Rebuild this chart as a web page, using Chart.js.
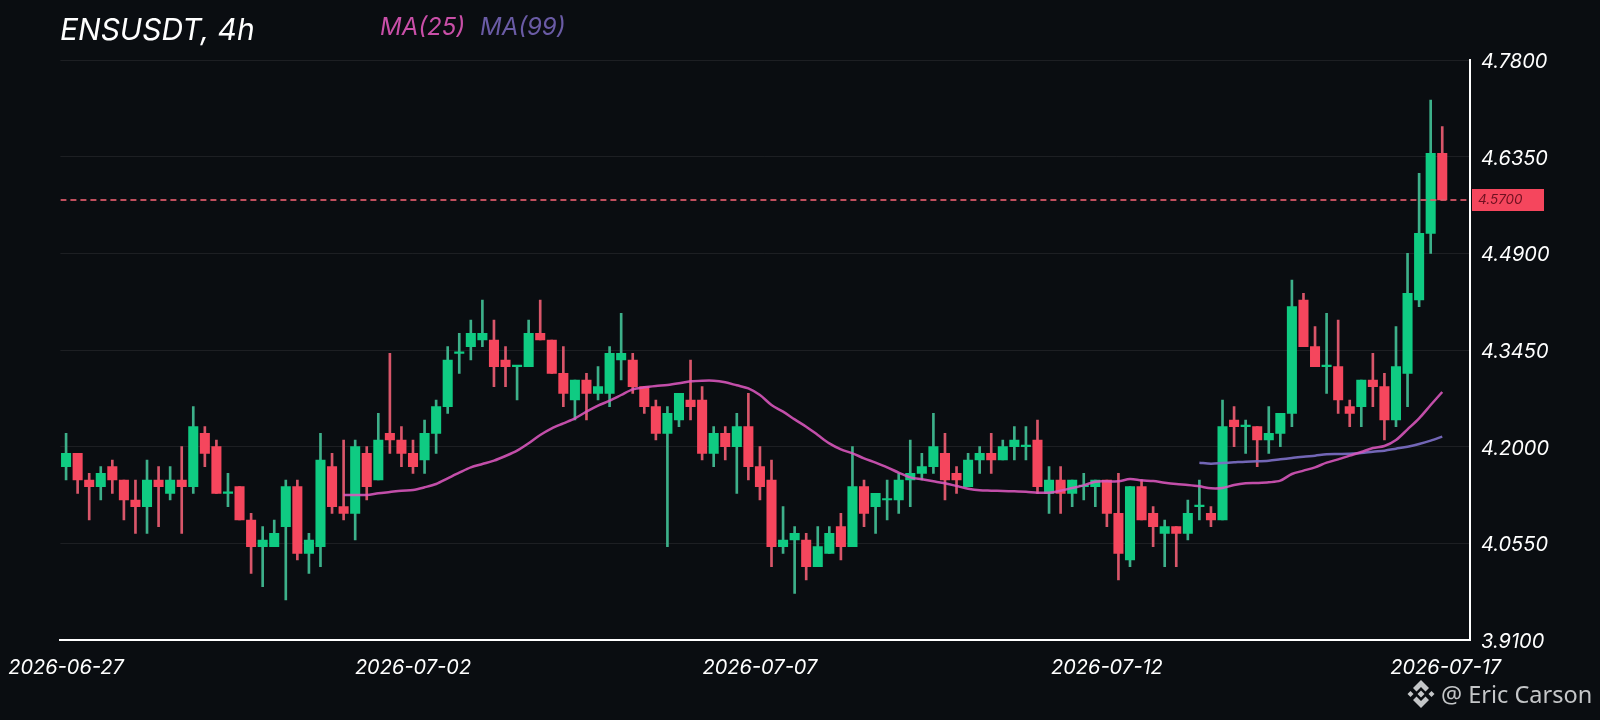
<!DOCTYPE html>
<html>
<head>
<meta charset="utf-8">
<title>ENSUSDT, 4h</title>
<script src="https://cdn.jsdelivr.net/npm/chart.js@4"></script>
<style>
  html, body { margin: 0; padding: 0; background: #0a0d11; }
  #wrap { position: relative; width: 1600px; height: 720px; overflow: hidden; font-family: Inter, sans-serif; font-style: italic; }
  canvas { position: absolute; left: 0; top: 0; }
  .label { position: absolute; white-space: nowrap; }
  #title { left: 60px; top: 11px; font-size: 30px; color: #fff; }
  #ma25name { left: 380px; top: 12px; font-size: 24px; color: #c94fa8; }
  #ma99name { left: 480px; top: 12px; font-size: 24px; color: #6a5ba5; }
  #mark { left: 1441px; top: 678px; font-size: 23.5px; font-style: normal; font-family: "Noto Sans", sans-serif; color: #c4c6c8; }
  #logo { position: absolute; left: 1407px; top: 680px; }
</style>
</head>
<body>
<div id="wrap">
  <canvas id="chart" width="1600" height="720"></canvas>
  <div class="label" id="title">ENSUSDT, 4h</div>
  <div class="label" id="ma25name">MA(25)</div>
  <div class="label" id="ma99name">MA(99)</div>
  <svg id="logo" width="28" height="28" viewBox="0 0 28 28" fill="#c4c6c8">
    <path d="M14 0 L22 8 L18.5 11.500 L14 7 L9.500 11.500 L6 8 Z"/>
    <path d="M14 28 L6 20 L9.500 16.500 L14 21 L18.500 16.500 L22 20 Z"/>
    <path d="M3.500 11 L6.500 14 L3.500 17 L0.500 14 Z"/>
    <path d="M24.500 11 L27.500 14 L24.500 17 L21.500 14 Z"/>
    <path d="M14 10.500 L17.500 14 L14 17.500 L10.500 14 Z"/>
  </svg>
  <div class="label" id="mark">@ Eric Carson</div>
</div>
<script>
// candles, 4h each
const opens = [
  4.17,4.19,4.15,4.14,4.17,4.15,4.12,4.11,4.15,4.13,4.15,4.14,4.22,4.20,4.13,4.14,4.09,4.05,4.05,4.08,
  4.14,4.04,4.05,4.17,4.11,4.10,4.19,4.15,4.22,4.21,4.19,4.18,4.22,4.26,4.34,4.35,4.36,4.36,4.33,4.32,
  4.32,4.37,4.36,4.31,4.27,4.30,4.28,4.28,4.33,4.33,4.29,4.26,4.22,4.24,4.27,4.27,4.19,4.22,4.20,4.23,
  4.17,4.15,4.05,4.06,4.06,4.02,4.04,4.08,4.05,4.14,4.11,4.12,4.12,4.15,4.16,4.17,4.19,4.16,4.14,4.18,
  4.19,4.18,4.20,4.20,4.21,4.13,4.15,4.13,4.14,4.14,4.15,4.10,4.03,4.14,4.10,4.07,4.08,4.07,4.11,4.10,
  4.09,4.24,4.23,4.23,4.21,4.22,4.25,4.42,4.35,4.32,4.32,4.26,4.26,4.30,4.29,4.24,4.31,4.42,4.52,4.64
];
const closes = [
  4.19,4.15,4.14,4.16,4.15,4.12,4.11,4.15,4.14,4.15,4.14,4.23,4.19,4.13,4.13,4.09,4.05,4.06,4.07,4.14,
  4.04,4.06,4.18,4.11,4.10,4.20,4.14,4.21,4.21,4.19,4.17,4.22,4.26,4.33,4.34,4.37,4.37,4.32,4.32,4.32,
  4.37,4.36,4.31,4.28,4.30,4.28,4.29,4.34,4.34,4.29,4.26,4.22,4.25,4.28,4.26,4.19,4.22,4.20,4.23,4.17,
  4.14,4.05,4.06,4.07,4.02,4.05,4.07,4.05,4.14,4.10,4.13,4.12,4.15,4.16,4.17,4.20,4.15,4.15,4.18,4.19,
  4.18,4.20,4.21,4.20,4.14,4.15,4.13,4.15,4.14,4.15,4.10,4.04,4.14,4.09,4.08,4.08,4.07,4.10,4.11,4.09,
  4.23,4.23,4.23,4.21,4.22,4.25,4.41,4.35,4.32,4.32,4.27,4.25,4.30,4.29,4.24,4.32,4.43,4.52,4.64,4.57
];
const highs = [
  4.22,4.19,4.16,4.17,4.18,4.15,4.15,4.18,4.17,4.17,4.20,4.26,4.23,4.21,4.16,4.14,4.10,4.08,4.09,4.15,
  4.15,4.07,4.22,4.19,4.21,4.21,4.20,4.25,4.34,4.23,4.21,4.24,4.27,4.35,4.37,4.39,4.42,4.39,4.35,4.32,
  4.39,4.42,4.36,4.35,4.30,4.31,4.32,4.35,4.40,4.34,4.29,4.27,4.26,4.28,4.33,4.29,4.23,4.23,4.25,4.28,
  4.20,4.18,4.11,4.08,4.07,4.08,4.08,4.10,4.20,4.15,4.13,4.15,4.16,4.21,4.19,4.25,4.22,4.17,4.19,4.20,
  4.22,4.21,4.23,4.23,4.24,4.17,4.17,4.15,4.16,4.15,4.15,4.16,4.14,4.15,4.11,4.09,4.08,4.12,4.15,4.11,
  4.27,4.26,4.24,4.23,4.26,4.25,4.45,4.43,4.38,4.40,4.39,4.27,4.30,4.34,4.31,4.38,4.49,4.61,4.72,4.68
];
const lows = [
  4.15,4.13,4.09,4.12,4.13,4.09,4.07,4.07,4.08,4.12,4.07,4.13,4.17,4.13,4.11,4.09,4.01,3.99,4.05,3.97,
  4.03,4.01,4.02,4.10,4.09,4.06,4.12,4.15,4.19,4.17,4.16,4.16,4.19,4.25,4.31,4.33,4.35,4.29,4.29,4.27,
  4.32,4.36,4.31,4.26,4.24,4.24,4.27,4.26,4.30,4.28,4.25,4.21,4.05,4.23,4.24,4.18,4.17,4.18,4.13,4.15,
  4.12,4.02,4.04,3.98,4.00,4.02,4.04,4.03,4.05,4.08,4.07,4.09,4.10,4.11,4.15,4.16,4.12,4.13,4.14,4.16,
  4.16,4.18,4.18,4.18,4.13,4.10,4.10,4.11,4.12,4.11,4.08,4.00,4.02,4.09,4.05,4.02,4.02,4.06,4.09,4.08,
  4.09,4.20,4.19,4.17,4.19,4.20,4.23,4.35,4.32,4.28,4.25,4.23,4.23,4.26,4.21,4.23,4.26,4.41,4.49,4.57
];

// moving averages start later, candle 25 and candle 99
const ma25Start = 24;
const ma25 = [
  4.1275,4.1275,4.1275,4.13,4.132,
  4.134,4.135,4.139,4.144,4.1525,4.161,4.169,4.174,4.179,4.186,
  4.194,4.205,4.2175,4.2275,4.235,4.2425,4.2525,4.2615,4.269,4.2775,
  4.286,4.289,4.291,4.2925,4.295,4.298,4.299,4.299,4.2965,4.292,
  4.2875,4.2775,4.2625,4.2525,4.241,4.23,4.2175,4.205,4.196,4.19,
  4.1825,4.176,4.169,4.161,4.154,4.151,4.148,4.145,4.141,4.137,
  4.1345,4.134,4.1335,4.133,4.1325,4.131,4.131,4.134,4.138,4.142,
  4.1475,4.148,4.148,4.1515,4.1495,4.1485,4.146,4.144,4.1425,4.1405,
  4.1375,4.138,4.1425,4.145,4.1455,4.1465,4.149,4.159,4.164,4.169,
  4.176,4.181,4.1865,4.192,4.198,4.201,4.21,4.226,4.2425,4.2625,4.282
];
const ma99Start = 98;
const ma99 = [
  4.176,4.1745,4.1755,4.1765,4.1775,4.178,4.179,4.181,4.183,4.185,4.1865,
  4.1885,4.189,4.1895,4.1905,4.1925,4.194,4.197,4.2,4.204,4.209,4.215
];

const priceTicks = [3.91, 4.055, 4.2, 4.345, 4.49, 4.635, 4.78];
const dateTickIndex = [0, 30, 60, 90, 119.3];
const dateTickLabels = ["2026-06-27", "2026-07-02", "2026-07-07", "2026-07-12", "2026-07-17"];
const lastPrice = 4.57;

const GREEN = "#0fcb82";
const RED = "#f5465d";
const GREEN_WICK = "#3db08a";
const RED_WICK = "#d9566a";

const xMin = -0.49;
const xMax = 121.4;

const isUp = (i) => closes[i] >= opens[i];

// small box with the last price on the axis
const priceTag = {
  id: "priceTag",
  afterDraw(chart) {
    const ctx = chart.ctx;
    const y = chart.scales.y.getPixelForValue(lastPrice);
    ctx.save();
    ctx.fillStyle = RED;
    ctx.fillRect(1472, y - 11, 72, 22);
    ctx.fillStyle = "#6e1020";
    ctx.font = "italic 13.5px Inter";
    ctx.textBaseline = "middle";
    ctx.fillText(lastPrice.toFixed(4), 1478, y);
    ctx.restore();
  }
};

new Chart(document.getElementById("chart"), {
  data: {
    datasets: [
      {
        type: "line",
        label: "MA(25)",
        data: ma25.map((v, i) => ({ x: i + ma25Start, y: v })),
        borderColor: "rgba(220, 88, 190, 0.88)",
        borderWidth: 2.5,
        pointRadius: 0,
        tension: 0.3,
        order: 1
      },
      {
        type: "line",
        label: "MA(99)",
        data: ma99.map((v, i) => ({ x: i + ma99Start, y: v })),
        borderColor: "rgba(124, 110, 196, 0.92)",
        borderWidth: 2.5,
        pointRadius: 0,
        tension: 0.3,
        order: 2
      },
      {
        type: "line",
        label: "last",
        data: [{ x: xMin, y: lastPrice }, { x: xMax, y: lastPrice }],
        borderColor: "rgba(226, 92, 108, 0.85)",
        borderWidth: 2,
        borderDash: [6, 4],
        pointRadius: 0,
        order: 3
      },
      {
        type: "bar",
        label: "body",
        data: opens.map((o, i) => ({ x: i, y: [o, closes[i]] })),
        backgroundColor: opens.map((o, i) => (isUp(i) ? GREEN : RED)),
        barThickness: 9.4,
        minBarLength: 1.5,
        grouped: false,
        order: 4
      },
      {
        type: "bar",
        label: "wick",
        data: lows.map((l, i) => ({ x: i, y: [l, highs[i]] })),
        backgroundColor: lows.map((l, i) => (isUp(i) ? GREEN_WICK : RED_WICK)),
        barThickness: 2,
        grouped: false,
        order: 5
      }
    ]
  },
  options: {
    responsive: false,
    animation: false,
    layout: { padding: { left: 60, top: 60, right: 0, bottom: 0 } },
    plugins: { legend: { display: false }, tooltip: { enabled: false } },
    scales: {
      x: {
        type: "linear",
        offset: false,
        min: xMin,
        max: xMax,
        afterBuildTicks(scale) {
          scale.ticks = dateTickIndex.map((v) => ({ value: v }));
        },
        afterFit(scale) {
          scale.height = 80;
        },
        grid: { display: false, offset: false },
        border: { color: "#ffffff", width: 2 },
        ticks: {
          autoSkip: false,
          maxRotation: 0,
          padding: 8,
          color: "#ffffff",
          font: { family: "Inter", size: 20, style: "italic" },
          callback(value) {
            return dateTickLabels[dateTickIndex.indexOf(value)];
          }
        }
      },
      y: {
        type: "linear",
        position: "right",
        min: 3.91,
        max: 4.78,
        afterBuildTicks(scale) {
          scale.ticks = priceTicks.map((v) => ({ value: v }));
        },
        afterFit(scale) {
          scale.width = 130;
        },
        grid: { color: "rgba(255, 255, 255, 0.08)", drawTicks: false },
        border: { color: "#ffffff", width: 2 },
        ticks: {
          padding: 11,
          labelOffset: 2,
          color: "#ffffff",
          font: { family: "Inter", size: 20, style: "italic" },
          callback(value) {
            return value.toFixed(4);
          }
        }
      }
    }
  },
  plugins: [priceTag]
});
</script>
</body>
</html>
